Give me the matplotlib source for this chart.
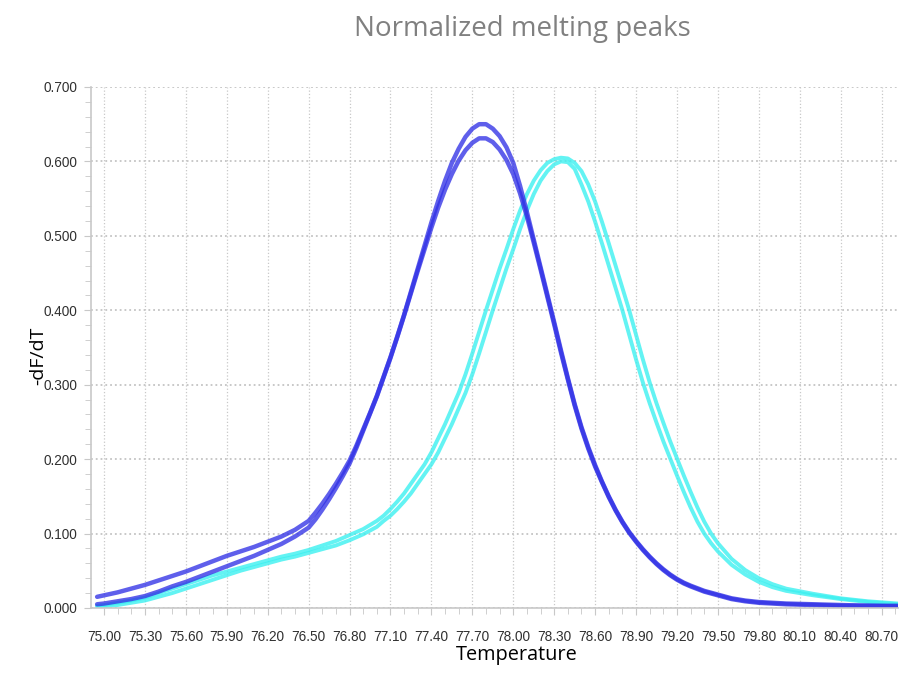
import matplotlib
matplotlib.use("Agg")
from matplotlib import pyplot as plt
from matplotlib.ticker import MultipleLocator, FormatStrFormatter

# temperature grids (deg C)
temp_blue = [74.95, 75.0, 75.1, 75.2, 75.3, 75.4, 75.5, 75.6, 75.7, 75.8, 75.9, 76.0, 76.1, 76.2, 76.3, 76.4,
             76.50, 76.55, 76.60, 76.65, 76.70, 76.75, 76.80, 76.85, 76.90, 76.95,
             77.00, 77.05, 77.10, 77.15, 77.20, 77.25, 77.30, 77.35, 77.40, 77.45,
             77.50, 77.55, 77.60, 77.65, 77.70, 77.75, 77.80, 77.85, 77.90, 77.95,
             78.00, 78.05, 78.10, 78.15, 78.20, 78.25, 78.30, 78.35, 78.40, 78.45,
             78.50, 78.55, 78.60, 78.65, 78.70, 78.75, 78.80, 78.85, 78.90, 78.95,
             79.00, 79.05, 79.10, 79.15, 79.20, 79.25, 79.30,
             79.4, 79.5, 79.6, 79.7, 79.8, 80.0, 80.2, 80.4, 80.6, 80.82]
blue_1 = [0.015, 0.017, 0.021, 0.026, 0.031, 0.037, 0.043, 0.049, 0.056, 0.063, 0.070, 0.076, 0.082, 0.089,
          0.096, 0.105,
          0.117, 0.128, 0.140, 0.153, 0.167, 0.182, 0.198, 0.218, 0.240, 0.262,
          0.285, 0.311, 0.337, 0.365, 0.394, 0.425, 0.456, 0.487, 0.518, 0.547,
          0.574, 0.598, 0.617, 0.633, 0.644, 0.650, 0.650, 0.644, 0.634, 0.619,
          0.598, 0.567, 0.532, 0.495, 0.458, 0.421, 0.384, 0.346, 0.309, 0.274,
          0.243, 0.216, 0.192, 0.170, 0.150, 0.132, 0.116, 0.102, 0.090, 0.079,
          0.069, 0.060, 0.052, 0.045, 0.039, 0.034, 0.030,
          0.023, 0.018, 0.013, 0.010, 0.008, 0.006, 0.005, 0.004, 0.003, 0.003]
blue_2 = [0.005, 0.006, 0.009, 0.012, 0.016, 0.022, 0.029, 0.035, 0.042, 0.049, 0.056, 0.063, 0.070, 0.078,
          0.086, 0.096,
          0.108, 0.119, 0.132, 0.146, 0.161, 0.177, 0.194, 0.215, 0.238, 0.261,
          0.284, 0.310, 0.336, 0.364, 0.393, 0.423, 0.453, 0.482, 0.511, 0.538,
          0.562, 0.583, 0.601, 0.615, 0.625, 0.631, 0.631, 0.626, 0.616, 0.602,
          0.583, 0.557, 0.526, 0.491, 0.455, 0.418, 0.381, 0.343, 0.307, 0.272,
          0.241, 0.214, 0.190, 0.169, 0.149, 0.131, 0.115, 0.101, 0.089, 0.078,
          0.068, 0.059, 0.051, 0.044, 0.038, 0.033, 0.029,
          0.022, 0.017, 0.012, 0.009, 0.007, 0.005, 0.004, 0.003, 0.003, 0.002]

temp_cyan = [74.95, 75.0, 75.1, 75.2, 75.3, 75.4, 75.5, 75.6, 75.7, 75.8, 75.9, 76.0, 76.1, 76.2, 76.3, 76.4,
             76.5, 76.6, 76.7, 76.8, 76.9,
             77.00, 77.05, 77.10, 77.15, 77.20, 77.25, 77.30, 77.35, 77.40, 77.45,
             77.50, 77.55, 77.60, 77.65, 77.70, 77.75, 77.80, 77.85, 77.90, 77.95,
             78.00, 78.05, 78.10, 78.15, 78.20, 78.25, 78.30, 78.35, 78.40, 78.45,
             78.50, 78.55, 78.60, 78.65, 78.70, 78.75, 78.80, 78.85, 78.90, 78.95,
             79.00, 79.05, 79.10, 79.15, 79.20, 79.25, 79.30, 79.35, 79.40, 79.45, 79.50,
             79.6, 79.7, 79.8, 79.9, 80.0, 80.2, 80.4, 80.6, 80.82]
cyan_outer = [0.003, 0.004, 0.007, 0.010, 0.014, 0.020, 0.026, 0.032, 0.038, 0.044, 0.049, 0.054, 0.059, 0.064,
              0.069, 0.073, 0.078, 0.084, 0.090, 0.098, 0.106,
              0.117, 0.124, 0.133, 0.143, 0.154, 0.167, 0.180, 0.193, 0.209, 0.228,
              0.247, 0.268, 0.289, 0.314, 0.342, 0.371, 0.400, 0.428, 0.456, 0.482,
              0.509, 0.534, 0.556, 0.574, 0.588, 0.598, 0.603, 0.605, 0.604, 0.598,
              0.587, 0.569, 0.546, 0.519, 0.490, 0.460, 0.430, 0.400, 0.367, 0.334,
              0.303, 0.275, 0.249, 0.224, 0.201, 0.178, 0.156, 0.135, 0.116, 0.100, 0.087,
              0.066, 0.051, 0.040, 0.032, 0.026, 0.019, 0.013, 0.009, 0.006]
cyan_inner = [0.002, 0.002, 0.004, 0.007, 0.010, 0.015, 0.020, 0.026, 0.032, 0.038, 0.044, 0.050, 0.055, 0.060,
              0.065, 0.069, 0.074, 0.079, 0.084, 0.091, 0.099,
              0.109, 0.117, 0.124, 0.133, 0.143, 0.154, 0.167, 0.180, 0.193, 0.209,
              0.228, 0.247, 0.268, 0.289, 0.314, 0.342, 0.371, 0.400, 0.428, 0.456,
              0.482, 0.509, 0.534, 0.556, 0.574, 0.587, 0.596, 0.600, 0.599, 0.590,
              0.569, 0.546, 0.519, 0.490, 0.460, 0.430, 0.400, 0.367, 0.334, 0.303,
              0.275, 0.249, 0.224, 0.201, 0.178, 0.156, 0.135, 0.116, 0.100, 0.087, 0.076,
              0.058, 0.045, 0.035, 0.028, 0.023, 0.017, 0.012, 0.008, 0.005]

x_ticks = [75.00, 75.30, 75.60, 75.90, 76.20, 76.50, 76.80, 77.10, 77.40, 77.70, 78.00, 78.30, 78.60,
           78.90, 79.20, 79.50, 79.80, 80.10, 80.40, 80.70]
y_ticks = [0.0, 0.1, 0.2, 0.3, 0.4, 0.5, 0.6, 0.7]

BLUE = '#3232e6'
CYAN = '#3cf0f0'
TICK_FONT = ['Liberation Sans', 'DejaVu Sans']
LABEL_FONT = ['Open Sans', 'DejaVu Sans']

fig = plt.figure(figsize=(9.09, 6.97), dpi=100)
ax = fig.add_axes([0.1001, 0.1277, 0.8878, 0.7475])

ax.plot(temp_cyan, cyan_inner, color=CYAN, lw=2.8, alpha=0.8, solid_capstyle='round')
ax.plot(temp_cyan, cyan_outer, color=CYAN, lw=2.8, alpha=0.8, solid_capstyle='round')
ax.plot(temp_blue, blue_2, color=BLUE, lw=3.2, alpha=0.78, solid_capstyle='round')
ax.plot(temp_blue, blue_1, color=BLUE, lw=3.2, alpha=0.78, solid_capstyle='round')

ax.set_xlim(74.905, 80.82)
ax.set_ylim(0, 0.7)
ax.set_xticks(x_ticks)
ax.set_yticks(y_ticks)
ax.xaxis.set_minor_locator(MultipleLocator(0.1))
ax.yaxis.set_minor_locator(MultipleLocator(0.02))
ax.xaxis.set_major_formatter(FormatStrFormatter('%.2f'))
ax.yaxis.set_major_formatter(FormatStrFormatter('%.3f'))

ax.grid(True, which='major', axis='x', ls=':', lw=0.9, color='#c8c8c8')
ax.grid(True, which='major', axis='y', ls=':', lw=1.3, color='#c4c4c4')
ax.set_axisbelow(True)

for side in ['top', 'right']:
    ax.spines[side].set_visible(False)
for side in ['left', 'bottom']:
    ax.spines[side].set_color('#c8c8c8')
    ax.spines[side].set_linewidth(1.2)

ax.tick_params(which='major', length=5, color='#c8c8c8', labelcolor='#303030')
ax.tick_params(which='minor', length=4, color='#c8c8c8')
ax.tick_params(axis='x', which='major', pad=11)
ax.tick_params(axis='y', which='major', pad=5)
for lbl in ax.get_xticklabels() + ax.get_yticklabels():
    lbl.set_fontfamily(TICK_FONT)
    lbl.set_fontsize(9.8)

fig.text(0.575, 0.958, 'Normalized melting peaks', ha='center', va='center',
         fontsize=20, color='#808080', family=LABEL_FONT)
fig.text(0.569, 0.060, 'Temperature', ha='center', va='center',
         fontsize=14.3, color='black', family=LABEL_FONT)
fig.text(0.042, 0.490, '-dF/dT', ha='center', va='center', rotation=90,
         fontsize=14, color='black', family=LABEL_FONT)

fig.savefig('out.png', dpi=100)
